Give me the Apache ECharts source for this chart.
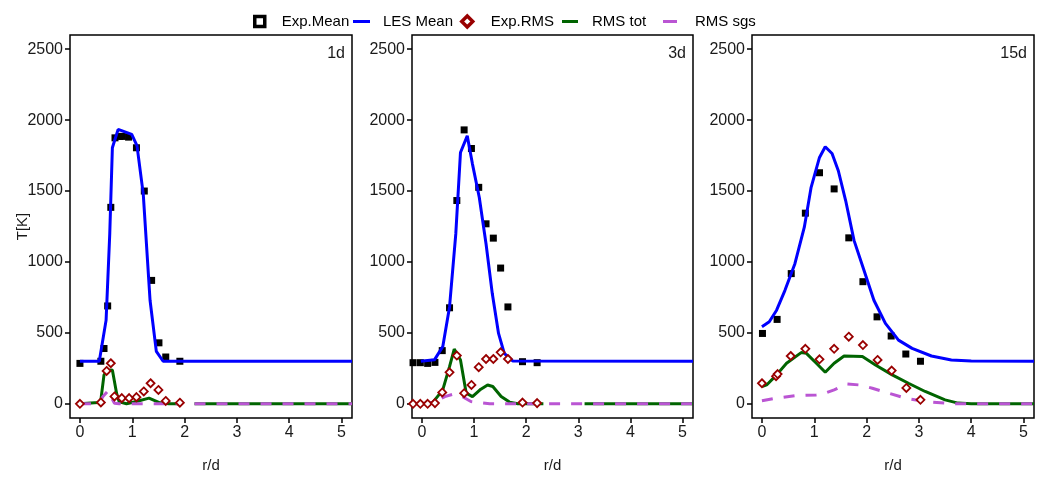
<!DOCTYPE html>
<html>
<head>
<meta charset="utf-8">
<script src="https://cdn.jsdelivr.net/npm/echarts@6/dist/echarts.min.js"></script>
<style>
html, body { margin: 0; padding: 0; background: #fff; }
#chart { width: 1046px; height: 479px; }
</style>
</head>
<body>
<div id="chart"></div>
<script>
// panel labels and tick values
var panelNames = ["1d", "3d", "15d"];
var xTicks = [0, 1, 2, 3, 4, 5];
var yTicks = [0, 500, 1000, 1500, 2000, 2500];

// 1d
var expMean1 = [[0,285],[0.4,300],[0.46,390],[0.53,690],[0.59,1385],[0.67,1875],[0.76,1885],[0.81,1885],[0.93,1880],[1.08,1805],[1.23,1500],[1.37,870],[1.51,430],[1.64,330],[1.91,300]];
var lesMean1 = [[0,300],[0.37,300],[0.5,590],[0.57,1200],[0.62,1805],[0.73,1935],[0.99,1900],[1.09,1820],[1.21,1480],[1.34,730],[1.46,370],[1.59,300],[5.2,300]];
var expRms1 = [[0,0],[0.4,10],[0.51,232],[0.59,286],[0.66,52],[0.8,40],[0.94,40],[1.08,47],[1.22,87],[1.35,145],[1.5,98],[1.64,20],[1.91,8]];
var rmsTot1 = [[0,0],[0.35,10],[0.4,28],[0.46,204],[0.53,236],[0.62,239],[0.7,75],[0.75,14],[0.89,0],[1.08,16],[1.32,40],[1.53,7],[1.7,0],[1.94,0],[2.06,null],[2.19,0],[5.2,0]];
var rmsSgs1 = [[0,0],[0.35,0],[0.44,51],[0.54,92],[0.6,45],[0.66,4],[0.75,0],[1.94,0],[2.06,null],[2.19,0],[5.2,0]];

// 3d
var expMean2 = [[-0.17,290],[-0.03,290],[0.11,285],[0.25,292],[0.39,375],[0.53,677],[0.67,1433],[0.81,1931],[0.95,1800],[1.09,1526],[1.23,1269],[1.37,1168],[1.51,957],[1.65,683],[1.93,297],[2.21,290]];
var lesMean2 = [[-0.02,300],[0.24,310],[0.4,403],[0.53,683],[0.65,1198],[0.74,1772],[0.87,1889],[0.97,1690],[1.1,1456],[1.23,1128],[1.35,777],[1.47,496],[1.58,356],[1.74,302],[5.2,300]];
var expRms2 = [[-0.17,0],[-0.03,0],[0.11,0],[0.25,5],[0.39,80],[0.53,222],[0.67,340],[0.81,75],[0.95,133],[1.09,258],[1.23,316],[1.37,316],[1.51,363],[1.65,316],[1.93,9],[2.21,5]];
var rmsTot2 = [[-0.02,0],[0.2,5],[0.4,98],[0.53,262],[0.62,386],[0.74,309],[0.85,75],[0.97,51],[1.13,103],[1.26,133],[1.36,122],[1.52,51],[1.68,12],[1.84,0],[2.33,0],[2.7,null],[3.12,0],[5.2,0]];
var rmsSgs2 = [[-0.02,0],[0.24,12],[0.44,51],[0.62,70],[0.78,50],[0.94,16],[1.13,7],[1.3,0],[5.2,0]];

// 15d
var expMean3 = [[0.01,496],[0.29,595],[0.56,918],[0.83,1344],[1.1,1629],[1.38,1515],[1.66,1170],[1.93,861],[2.2,613],[2.47,478],[2.75,351],[3.03,300]];
var lesMean3 = [[0,543],[0.14,578],[0.28,660],[0.44,800],[0.63,988],[0.81,1245],[0.94,1526],[1.1,1737],[1.21,1812],[1.34,1765],[1.46,1643],[1.6,1433],[1.76,1152],[1.95,941],[2.14,730],[2.36,567],[2.61,449],[2.87,391],[3.24,337],[3.62,309],[4.0,302],[5.2,300]];
var expRms3 = [[0,145],[0.27,195],[0.3,210],[0.55,337],[0.83,388],[1.1,314],[1.38,388],[1.66,473],[1.93,414],[2.21,309],[2.48,234],[2.76,112],[3.03,28]];
var rmsTot3 = [[0,122],[0.09,133],[0.28,204],[0.47,286],[0.75,361],[0.85,356],[1.04,286],[1.21,222],[1.38,286],[1.57,337],[1.92,333],[2.17,274],[2.49,204],[2.8,145],[3.12,87],[3.5,28],[3.75,5],[4.0,0],[5.2,0]];
var rmsSgs3 = [[0,21],[0.28,40],[0.66,59],[1.04,63],[1.17,70],[1.38,98],[1.63,140],[1.86,133],[2.11,110],[2.42,75],[2.74,40],[3.12,16],[3.5,5],[3.75,0],[5.2,0]];

var panels = [
    { mean: expMean1, les: lesMean1, rms: expRms1, tot: rmsTot1, sgs: rmsSgs1 },
    { mean: expMean2, les: lesMean2, rms: expRms2, tot: rmsTot2, sgs: rmsSgs2 },
    { mean: expMean3, les: lesMean3, rms: expRms3, tot: rmsTot3, sgs: rmsSgs3 }
];

var gridLeft = [70, 412, 752], gridWidth = [282, 281, 282];
var FONT = "Liberation Sans, Arial, sans-serif";
var TXT = "#1a1a1a";

var chart = echarts.init(document.getElementById("chart"), null, { renderer: "canvas" });

var grids = [], xAxes = [], yAxes = [], series = [], graphics = [];

function plain(v) { return String(v); }

for (var i = 0; i < 3; i++) {
    grids.push({
        left: gridLeft[i], top: 35, width: gridWidth[i], height: 383,
        show: true, borderColor: "#000", borderWidth: 1.5, backgroundColor: "transparent"
    });
    xAxes.push({
        type: "value", gridIndex: i, min: -0.19, max: 5.2, position: "bottom",
        name: "r/d", nameLocation: "middle", nameGap: 40, nameMoveOverlap: false,
        nameTextStyle: { fontFamily: FONT, fontSize: 15, color: TXT },
        axisLine: { show: false, onZero: false },
        axisTick: { show: true, inside: false, length: 5, customValues: xTicks, lineStyle: { color: "#000", width: 1.5 } },
        axisLabel: { customValues: xTicks, formatter: plain, margin: 7, fontFamily: FONT, fontSize: 16, color: TXT },
        splitLine: { show: false }
    });
    yAxes.push({
        type: "value", gridIndex: i, min: -100, max: 2600, position: "left",
        name: i == 0 ? "T[K]" : "", nameLocation: "middle", nameGap: 40, nameMoveOverlap: false,
        nameTextStyle: { fontFamily: FONT, fontSize: 15, color: TXT },
        axisLine: { show: false, onZero: false },
        axisTick: { show: true, inside: false, length: 5, customValues: yTicks, lineStyle: { color: "#000", width: 1.5 } },
        axisLabel: { customValues: yTicks, formatter: plain, margin: 7, fontFamily: FONT, fontSize: 16, color: TXT },
        splitLine: { show: false }
    });

    var p = panels[i];
    series.push({
        name: "Exp.Mean", type: "scatter", xAxisIndex: i, yAxisIndex: i, data: p.mean,
        symbol: "rect", symbolSize: 7, itemStyle: { color: "#000", opacity: 1 }, z: 2
    });
    series.push({
        name: "LES Mean", type: "line", xAxisIndex: i, yAxisIndex: i, data: p.les,
        showSymbol: false, lineStyle: { color: "#0000ff", width: 3 }, itemStyle: { color: "#0000ff" }, z: 3
    });
    series.push({
        name: "RMS tot", type: "line", xAxisIndex: i, yAxisIndex: i, data: p.tot,
        showSymbol: false, connectNulls: false, lineStyle: { color: "#006400", width: 3 }, itemStyle: { color: "#006400" }, z: 3
    });
    series.push({
        name: "RMS sgs", type: "line", xAxisIndex: i, yAxisIndex: i, data: p.sgs,
        showSymbol: false, connectNulls: false, lineStyle: { color: "#ba55d3", width: 3, type: [11, 11] }, itemStyle: { color: "#ba55d3" }, z: 4
    });
    series.push({
        name: "Exp.RMS", type: "scatter", xAxisIndex: i, yAxisIndex: i, data: p.rms,
        symbol: "diamond", symbolSize: 8, itemStyle: { color: "#fff", borderColor: "#990000", borderWidth: 1.8, opacity: 1 }, z: 5
    });

    graphics.push({
        type: "text", right: 1046 - (gridLeft[i] + gridWidth[i]) + 7, top: 46,
        style: { text: panelNames[i], font: "16px " + FONT, fill: TXT }
    });
}

// one legend per entry, so each key sits where the reference puts it
function legendItem(name, left, icon, w, h, pad, style) {
    return {
        data: [name], left: left, top: 9, icon: icon, itemWidth: w, itemHeight: h,
        itemStyle: style, selectedMode: false,
        textStyle: { fontFamily: FONT, fontSize: 15, color: "#000", padding: [0, 0, 0, pad] }
    };
}

var legends = [
    legendItem("Exp.Mean", 248, "rect", 10, 10, 12, { color: "#fff", borderColor: "#000", borderWidth: 3.5, opacity: 1 }),
    legendItem("LES Mean", 348, "rect", 17, 3, 8, { color: "#0000ff" }),
    legendItem("Exp.RMS", 455, "diamond", 11, 11, 13, { color: "#fff", borderColor: "#990000", borderWidth: 3.5, opacity: 1 }),
    legendItem("RMS tot", 557, "rect", 16, 3, 9, { color: "#006400" }),
    legendItem("RMS sgs", 658, "rect", 14, 3, 13, { color: "#ba55d3" })
];

chart.setOption({
    animation: false,
    backgroundColor: "#fff",
    legend: legends,
    grid: grids,
    xAxis: xAxes,
    yAxis: yAxes,
    series: series,
    graphic: graphics
});
</script>
</body>
</html>
